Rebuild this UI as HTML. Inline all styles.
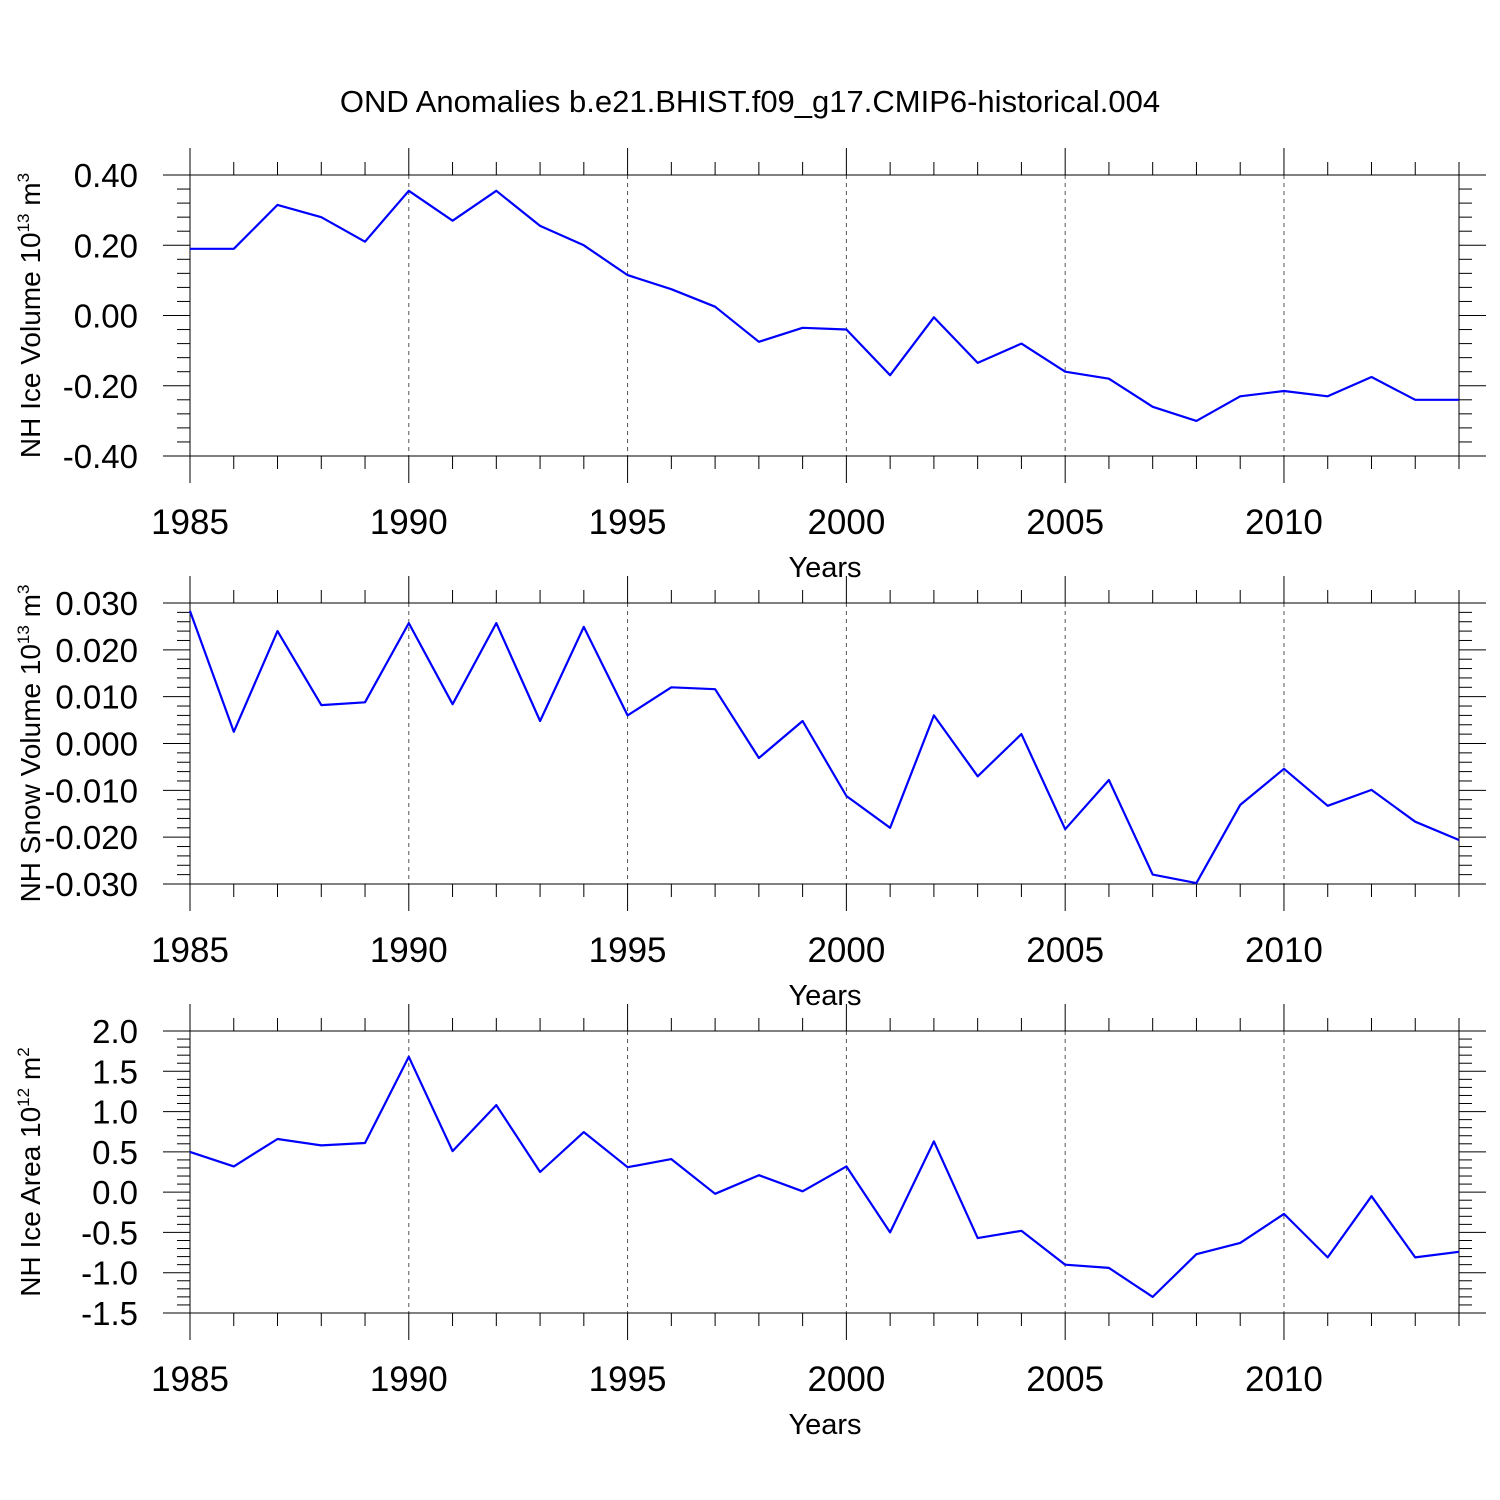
<!DOCTYPE html>
<html><head><meta charset="utf-8"><style>
html,body{margin:0;padding:0;background:#fff;}
svg{display:block;font-family:"Liberation Sans",Arial,sans-serif;}
</style></head><body>
<svg id="c" width="1500" height="1500" viewBox="0 0 1500 1500">
<text x="750" y="112" font-size="31" text-anchor="middle">OND Anomalies b.e21.BHIST.f09_g17.CMIP6-historical.004</text>
</svg>
<script>
const years=[1985,1986,1987,1988,1989,1990,1991,1992,1993,1994,1995,1996,1997,1998,1999,2000,2001,2002,2003,2004,2005,2006,2007,2008,2009,2010,2011,2012,2013,2014];
const iceVolume=[0.19,0.19,0.315,0.28,0.21,0.355,0.27,0.355,0.255,0.2,0.115,0.075,0.025,-0.075,-0.035,-0.04,-0.17,-0.005,-0.135,-0.08,-0.16,-0.18,-0.26,-0.30,-0.23,-0.215,-0.23,-0.175,-0.24,-0.24];
const snowVolume=[0.0283,0.0025,0.024,0.0082,0.0088,0.0257,0.0084,0.0257,0.0048,0.0249,0.006,0.012,0.0116,-0.0031,0.0048,-0.0112,-0.018,0.006,-0.007,0.002,-0.0183,-0.0078,-0.028,-0.0298,-0.0131,-0.0054,-0.0133,-0.0099,-0.0167,-0.0206];
const iceArea=[0.5,0.32,0.66,0.58,0.61,1.68,0.51,1.08,0.25,0.745,0.31,0.41,-0.02,0.21,0.01,0.32,-0.5,0.63,-0.57,-0.48,-0.9,-0.94,-1.3,-0.77,-0.63,-0.27,-0.81,-0.05,-0.81,-0.74];
const xTickLabels=["1985","1990","1995","2000","2005","2010"];
const iceVolTicks=["0.40","0.20","0.00","-0.20","-0.40"];
const snowVolTicks=["0.030","0.020","0.010","0.000","-0.010","-0.020","-0.030"];
const iceAreaTicks=["2.0","1.5","1.0","0.5","0.0","-0.5","-1.0","-1.5"];

const svg=document.getElementById('c');
const NS="http://www.w3.org/2000/svg";
function mk(tag,attrs,parent){const e=document.createElementNS(NS,tag);for(const k in attrs)e.setAttribute(k,attrs[k]);(parent||svg).appendChild(e);return e;}
const X0=190,X1=1459;
function xs(yr){return X0+(yr-1985)/(2014-1985)*(X1-X0);}

function panel(name,top,bot,ticks,vals,titleMain,sup,unit,unitSup){
  const g=mk('g',{});
  
  
  const ymax=parseFloat(ticks[0]),ymin=parseFloat(ticks[ticks.length-1]);
  const ys=v=>top+(ymax-v)/(ymax-ymin)*(bot-top);
  const line=(x1,y1,x2,y2,extra)=>mk('line',Object.assign({x1,y1,x2,y2,stroke:'#000','stroke-width':1},extra||{}),g);
  for(let yr=1990;yr<=2010;yr+=5){const l=line(xs(yr),top,xs(yr),bot,{'stroke-dasharray':'4,4',stroke:'#555'});}
  const r=mk('rect',{x:X0,y:top,width:X1-X0,height:bot-top,fill:'none',stroke:'#000','stroke-width':1},g);
  
  for(let yr=1985;yr<=2014;yr++){
    const major=(yr%5===0);const L=major?27:13;
    line(xs(yr),top-L,xs(yr),top);line(xs(yr),bot,xs(yr),bot+L);
  }
  xTickLabels.forEach(s=>{const t=mk('text',{x:xs(+s),y:bot+78,'font-size':35,'text-anchor':'middle'},g);t.textContent=s;});
  const xt=mk('text',{x:825,y:bot+121,'font-size':29,'text-anchor':'middle'},g);xt.textContent='Years';
  
  const n=ticks.length-1,step=(ymax-ymin)/n;
  for(let i=0;i<=n;i++){
    const v=ymax-i*step,y=ys(v);
    line(X0-27,y,X0,y);line(X1,y,X1+27,y);
    const t=mk('text',{x:138,y:y+12,'font-size':33,'text-anchor':'end'},g);t.textContent=ticks[i];
    
    if(i<n)for(let k=1;k<5;k++){const ym=ys(v-step*k/5);line(X0-13,ym,X0,ym);line(X1,ym,X1+13,ym);}
  }
  const cy=(top+bot)/2;
  const yt=mk('text',{transform:`translate(40,${cy}) rotate(-90)`,'font-size':28,'text-anchor':'middle'},g);
  
  yt.innerHTML=`${titleMain}<tspan dy="-11" font-size="17">${sup}</tspan><tspan dy="11"> ${unit}</tspan><tspan dy="-11" font-size="17">${unitSup}</tspan>`;
  const pts=years.map((yr,i)=>xs(yr).toFixed(1)+','+ys(vals[i]).toFixed(1)).join(' ');
  const p=mk('polyline',{points:pts,fill:'none',stroke:'#0000ff','stroke-width':2.2,'stroke-linejoin':'round'},g);
  
}
panel('ice-volume',175,456,iceVolTicks,iceVolume,'NH Ice Volume 10','13','m','3');
panel('snow-volume',603,884,snowVolTicks,snowVolume,'NH Snow Volume 10','13','m','3');
panel('ice-area',1031,1313,iceAreaTicks,iceArea,'NH Ice Area 10','12','m','2');
</script>
</body></html>
